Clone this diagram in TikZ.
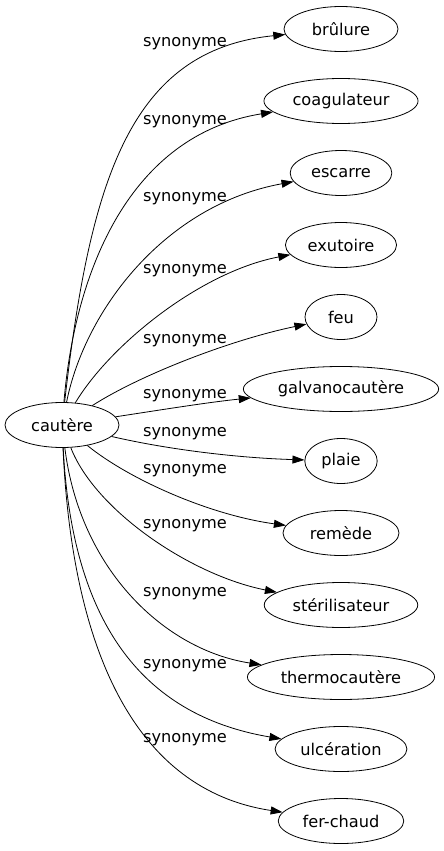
\documentclass[tikz,border=0pt]{standalone}
\usepackage{fontspec}
\setmainfont{DejaVu Sans}
\usetikzlibrary{shapes.geometric,arrows.meta}

\begin{document}
\begin{tikzpicture} [x=1pt, y=-1pt, node distance=72pt, word/.style={ellipse, draw, line width=0.8pt, minimum width=72pt, minimum height=45pt, inner xsep=6pt, inner ysep=2pt}, link/.style={-{Triangle[length=12pt, width=8pt]}, line width=0.8pt}, rel/.style={inner sep=0pt}]
\useasboundingbox (0,0) rectangle (444,851);
{\fontsize{16.2}{19}\selectfont
  %% Source word
  \node [word, minimum width=114pt] (cautere) at (62,425) {cautère};
  %% Synonyms, one under the other
  \node [word, minimum width=114pt] (brulure) at (341,29) {brûlure};
  \node [word, below of=brulure] (coag) {coagulateur};
  \node [word, below of=coag] (escarre) {escarre};
  \node [word, below of=escarre] (exutoire) {exutoire};
  \node [word, below of=exutoire] (feu) {feu};
  \node [word, below of=feu] (galvano) {galvanocautère};
  \node [word, below of=galvano] (plaie) {plaie};
  \node [word, below of=plaie, minimum width=116pt] (remede) {remède};
  \node [word, below of=remede] (steril) {stérilisateur};
  \node [word, below of=steril] (thermo) {thermocautère};
  \node [word, below of=thermo] (ulcer) {ulcération};
  \node [word, below of=ulcer] (ferchaud) {fer-chaud};
  % Draw edges
  \draw [link] (cautere) .. controls (90,180) and (130,50) .. (brulure);
  \draw [link] (cautere) .. controls (75,270) and (130,135) .. (coag);
  \draw [link] (cautere) .. controls (85,310) and (165,205) .. (escarre);
  \draw [link] (cautere) .. controls (110,345) and (200,272) .. (exutoire);
  \draw [link] (cautere) .. controls (140,375) and (230,340) .. (feu);
  \draw [link] (cautere) .. controls (160,410) and (210,402) .. (galvano);
  \draw [link] (cautere) .. controls (170,450) and (240,458) .. (plaie);
  \draw [link] (cautere) .. controls (130,480) and (210,515) .. (remede);
  \draw [link] (cautere) .. controls (95,510) and (190,575) .. (steril);
  \draw [link] (cautere) .. controls (80,570) and (165,650) .. (thermo);
  \draw [link] (cautere) .. controls (72,620) and (140,715) .. (ulcer);
  \draw [link] (cautere) .. controls (72,650) and (135,790) .. (ferchaud);
  % Edge labels
  \foreach \y [count=\i] in {44,122,199,271,341,396,434,471,526,594,666,740}
    \node [rel] (syn\i) at (185,\y) {synonyme};
}
\end{tikzpicture}
\end{document}
